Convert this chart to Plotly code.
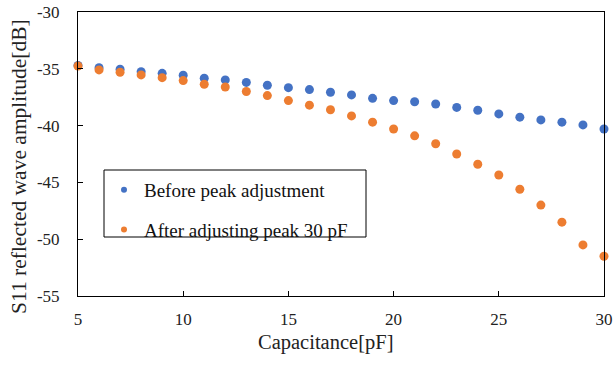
import plotly.graph_objects as go

capacitance = list(range(5, 31))
before_peak = [-34.7, -34.9, -35.04, -35.25, -35.4, -35.57, -35.83, -35.98, -36.2, -36.45,
               -36.66, -36.83, -37.06, -37.3, -37.6, -37.8, -37.9, -38.1, -38.4, -38.65,
               -38.97, -39.26, -39.5, -39.7, -39.94, -40.3]
after_peak = [-34.75, -35.1, -35.3, -35.54, -35.78, -36.04, -36.36, -36.6, -37.0, -37.36,
              -37.8, -38.2, -38.6, -39.15, -39.7, -40.3, -40.9, -41.6, -42.5, -43.4,
              -44.35, -45.6, -47.0, -48.5, -50.5, -51.5]
series_names = ["Before peak adjustment", "After adjusting peak 30 pF"]
colors = ["#4472C4", "#ED7D31"]
y_tick_values = [-55, -50, -45, -40, -35, -30]
y_tick_labels = ["-55", "-50", "-45", "-40", "-35", "-30"]
x_title = "Capacitance[pF]"
y_title = "S11 reflected wave amplitude[dB]"

font = "Liberation Serif"
fig = go.Figure()
for name, ys, c in [(series_names[0], before_peak, colors[0]), (series_names[1], after_peak, colors[1])]:
    fig.add_trace(go.Scatter(x=capacitance, y=ys, mode="markers", name=name,
                             marker=dict(color=c, size=9), showlegend=False, cliponaxis=False))
for i, (name, c) in enumerate(zip(series_names, colors)):
    fig.add_trace(go.Scatter(x=[None], y=[None], mode="markers", name=name, legendgroup=f"g{i}",
                             marker=dict(color=c, size=6)))

axis_common = dict(showgrid=False, zeroline=False, showline=True, linecolor="black", linewidth=1,
                   mirror=True, ticks="inside", ticklen=5, tickcolor="black", automargin=False,
                   tickfont=dict(family=font, size=17, color="#222"))
fig.update_xaxes(range=[5, 30], dtick=5, ticklabelstandoff=8, **axis_common)
fig.update_yaxes(range=[-55, -30], tickvals=y_tick_values, ticktext=y_tick_labels, ticklabelstandoff=14,
                 **axis_common)

fig.add_annotation(text=x_title, xref="paper", yref="paper", x=(325 - 78) / 526, y=(296 - 342) / 284,
                   xanchor="center", yanchor="middle", showarrow=False,
                   font=dict(family=font, size=20.5, color="#222"))
fig.add_annotation(text=y_title, xref="paper", yref="paper", x=(19 - 78) / 526, y=(296 - 167) / 284,
                   xanchor="center", yanchor="middle", showarrow=False, textangle=-90,
                   font=dict(family=font, size=21.5, color="#222"))

fig.add_shape(type="rect", xref="paper", yref="paper", x0=(104 - 78) / 526, x1=(366 - 78) / 526,
              y0=(296 - 237) / 284, y1=(296 - 170) / 284, line=dict(color="black", width=1),
              fillcolor="rgba(0,0,0,0)")

fig.update_layout(
    width=614, height=365,
    margin=dict(l=78, r=10, t=12, b=69),
    plot_bgcolor="white", paper_bgcolor="white",
    legend=dict(x=(104 - 78) / 526, y=(296 - 171) / 284, xanchor="left", yanchor="top",
                borderwidth=0, bgcolor="rgba(0,0,0,0)",
                font=dict(family=font, size=19, color="#111"),
                itemwidth=30, tracegroupgap=12),
)
fig.write_html("out.html", config={"displayModeBar": False},
               post_script="document.body.style.margin='0';")
